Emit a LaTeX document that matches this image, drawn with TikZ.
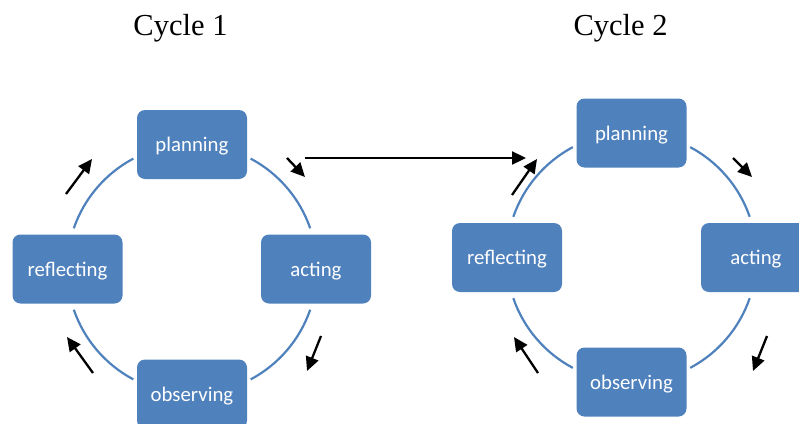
\documentclass[tikz,border=0pt]{standalone}
\usepackage{fontspec}
\setmainfont{Liberation Serif}
\newfontfamily\boxfont{Carlito}
\usetikzlibrary{arrows.meta}
\definecolor{boxblue}{HTML}{4F81BD}
\tikzset{
  stagebox/.style={rounded corners=8pt, fill=boxblue, text=white, minimum width=110pt, minimum height=69pt, inner sep=0pt, text height=14.6pt, text depth=0pt, font=\boxfont\fontsize{20.8}{24}\selectfont},
  ring/.style={draw=boxblue, line width=2.2pt},
  flow/.style={draw=black, line width=2.3pt, -{Triangle[length=14pt,width=13pt]}},
  title/.style={font=\fontsize{30.5}{36}\selectfont, inner sep=0pt}
}
\begin{document}
\begin{tikzpicture}[x=1pt,y=-1pt]
\useasboundingbox (0,0) rectangle (799,423);
\clip (0,0) rectangle (799,423);
% titles
\node[title] (t1) at (180.5,28) {Cycle 1};
\node[title] (t2) at (620.5,28) {Cycle 2};
% cycle centres
\coordinate (c1) at (192,269);
\coordinate (c2) at (631.5,257.5);
% rings
\foreach \c in {c1,c2}{
  \draw[ring] ([shift={(-19:125)}]\c) arc (-19:-62:125);
  \draw[ring] ([shift={(-118:125)}]\c) arc (-118:-161:125);
  \draw[ring] ([shift={(-199:125)}]\c) arc (-199:-242:125);
  \draw[ring] ([shift={(-298:125)}]\c) arc (-298:-341:125);
}
% cycle 1 boxes
\node[stagebox] (p1) at (192,144.5) {planning};
\node[stagebox] (a1) at (316,269) {acting};
\node[stagebox] (o1) at (192,394) {observing};
\node[stagebox] (r1) at (67.5,269) {reflecting};
% cycle 2 boxes
\node[stagebox] (p2) at (631.5,133) {planning};
\node[stagebox] (a2) at (756,257.5) {acting};
\node[stagebox] (o2) at (631.5,382) {observing};
\node[stagebox] (r2) at (507,257.5) {reflecting};
% arrow end points, cycle 1
\coordinate (u1s) at (66,194);  \coordinate (u1e) at (92,159);
\coordinate (u2s) at (287,158); \coordinate (u2e) at (305,177);
\coordinate (u3s) at (321,336); \coordinate (u3e) at (307,371);
\coordinate (u4s) at (93,373);  \coordinate (u4e) at (67,337);
% cycle 2
\coordinate (v1s) at (512,195); \coordinate (v1e) at (537,159);
\coordinate (v2s) at (733,158); \coordinate (v2e) at (752,177);
\coordinate (v3s) at (767,336); \coordinate (v3e) at (753,371);
\coordinate (v4s) at (538,373); \coordinate (v4e) at (514,337);
% link
\coordinate (ls) at (305,158); \coordinate (le) at (526,158);
\foreach \s/\e in {u1s/u1e,u2s/u2e,u3s/u3e,u4s/u4e,v1s/v1e,v2s/v2e,v3s/v3e,v4s/v4e,ls/le}{
  \draw[flow] (\s) -- (\e);
}
\end{tikzpicture}
\end{document}
